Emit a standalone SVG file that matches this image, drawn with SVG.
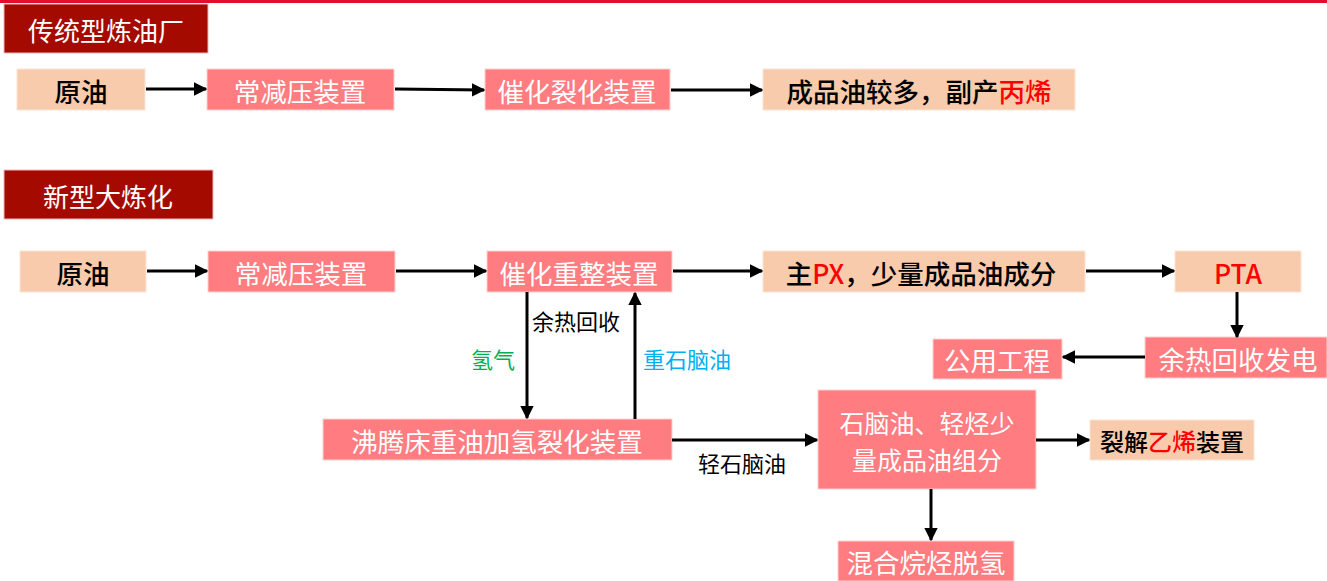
<svg xmlns="http://www.w3.org/2000/svg" width="1327" height="581" viewBox="0 0 1327 581">
<defs>
<marker id="ah" viewBox="0 0 10 10" refX="9" refY="5" markerWidth="4.5" markerHeight="4.5" orient="auto" markerUnits="strokeWidth">
<path d="M0,0 L10,5 L0,10 Z" fill="#000"/>
</marker>
<style>
text{font-family:"Microsoft YaHei","Noto Sans CJK SC",sans-serif;}
.title rect{fill:#A50A00;stroke:#F2B8B8;stroke-width:1;}
.title text{fill:#fff;font-size:26px;text-anchor:middle;dominant-baseline:central;}
.pk rect{fill:#FF7C80;stroke:#FFD0D0;stroke-width:1;}
.pk text{fill:#fff;font-size:26.5px;text-anchor:middle;dominant-baseline:central;}
.pc rect{fill:#F8CBAD;stroke:#FBE3D3;stroke-width:1;}
.pc text{fill:#000;font-size:26.5px;font-weight:500;text-anchor:middle;dominant-baseline:central;}
.red{fill:#FF0000;}
.conn line{stroke:#000;stroke-width:3;fill:none;}
.arr{marker-end:url(#ah);}
.lbl{font-size:22px;dominant-baseline:central;}
</style>
</defs>
<rect x="0" y="0" width="1327" height="3" fill="#E0102A"/>

<g id="title1" class="title"><rect x="4" y="4" width="204" height="49"/><text x="106" y="29">传统型炼油厂</text></g>
<g id="title2" class="title"><rect x="4" y="170" width="209" height="49"/><text x="108" y="195">新型大炼化</text></g>

<g id="t-crude" class="pc"><rect x="17" y="69" width="128" height="41"/><text x="81" y="90">原油</text></g>
<g id="t-adu" class="pk"><rect x="207" y="69" width="187" height="41"/><text x="300" y="90">常减压装置</text></g>
<g id="t-fcc" class="pk"><rect x="485" y="69" width="185" height="41"/><text x="577" y="90">催化裂化装置</text></g>
<g id="t-prod" class="pc"><rect x="763" y="69" width="312" height="41"/><text x="919" y="90">成品油较多，副产<tspan class="red">丙烯</tspan></text></g>

<g id="n-crude" class="pc"><rect x="20" y="251" width="126" height="41"/><text x="83" y="272">原油</text></g>
<g id="n-adu" class="pk"><rect x="208" y="251" width="187" height="41"/><text x="301" y="272">常减压装置</text></g>
<g id="n-reform" class="pk"><rect x="487" y="251" width="185" height="41"/><text x="579" y="272">催化重整装置</text></g>
<g id="n-px" class="pc"><rect x="763" y="251" width="322" height="41"/><text x="921" y="272">主<tspan class="red">PX</tspan>，少量成品油成分</text></g>
<g id="n-pta" class="pc"><rect x="1175" y="251" width="126" height="41"/><text x="1238" y="272" style="fill:#FF0000">PTA</text></g>
<g id="n-heat" class="pk"><rect x="1145" y="337" width="182" height="41"/><text x="1238" y="358">余热回收发电</text></g>
<g id="n-util" class="pk"><rect x="933" y="339" width="129" height="40"/><text x="997" y="359">公用工程</text></g>
<g id="n-ebhc" class="pk"><rect x="323" y="419" width="349" height="41"/><text x="497" y="440">沸腾床重油加氢裂化装置</text></g>
<g id="n-naph" class="pk"><rect x="818" y="390" width="218" height="99"/><text x="927" y="422" style="font-size:25px">石脑油、轻烃少</text><text x="927" y="459" style="font-size:25px">量成品油组分</text></g>
<g id="n-eth" class="pc"><rect x="1090" y="420" width="164" height="40"/><text x="1172" y="440" style="font-size:24px">裂解<tspan class="red">乙烯</tspan>装置</text></g>
<g id="n-pdh" class="pk"><rect x="838" y="541" width="176" height="40"/><text x="926" y="561">混合烷烃脱氢</text></g>

<g id="connectors" class="conn">
<line class="arr" x1="146" y1="89" x2="206" y2="89"/>
<line class="arr" x1="395" y1="89" x2="484" y2="90"/>
<line class="arr" x1="671" y1="90" x2="762" y2="90"/>
<line class="arr" x1="147" y1="271" x2="207" y2="271"/>
<line class="arr" x1="396" y1="271" x2="486" y2="271"/>
<line class="arr" x1="673" y1="271" x2="762" y2="271"/>
<line class="arr" x1="1086" y1="271" x2="1174" y2="271"/>
<line class="arr" x1="1237" y1="292" x2="1237" y2="337"/>
<line class="arr" x1="1145" y1="357" x2="1063" y2="357"/>
<line class="arr" x1="527" y1="292" x2="527" y2="418"/>
<line class="arr" x1="635" y1="419" x2="635" y2="293"/>
<line class="arr" x1="672" y1="440" x2="817" y2="440"/>
<line class="arr" x1="1036" y1="440" x2="1089" y2="440"/>
<line class="arr" x1="931" y1="489" x2="931" y2="540"/>
<text class="lbl" x="532" y="320" fill="#000">余热回收</text>
<text class="lbl" x="471" y="358" fill="#00B050">氢气</text>
<text class="lbl" x="643" y="358" fill="#00B0F0">重石脑油</text>
<text class="lbl" x="698" y="462" fill="#000">轻石脑油</text>
</g>
</svg>
